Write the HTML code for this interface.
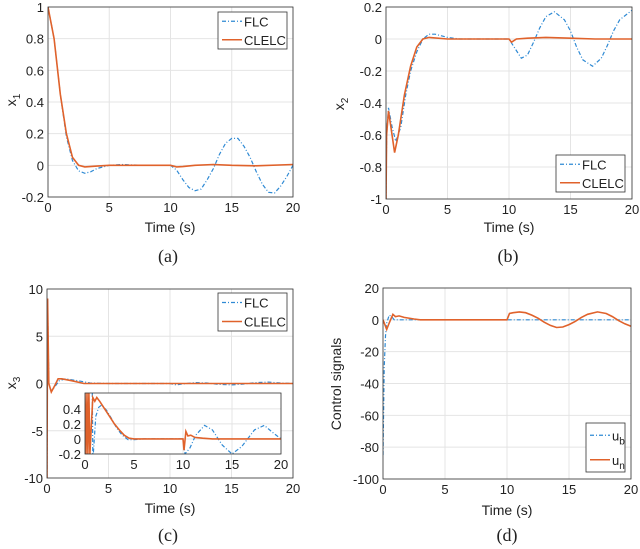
<!DOCTYPE html>
<html><head><meta charset="utf-8"><style>
body{margin:0;background:#fff}
svg{display:block;font-family:"Liberation Sans",sans-serif}
</style></head><body>
<svg id="fig" width="640" height="549" viewBox="0 0 640 549" xmlns="http://www.w3.org/2000/svg"></svg>
<script>
// ---- data (time, value) ----
const aT_flc=[0,0.5,1,1.5,2,2.5,3,3.5,4,5,6,7,8,9,10,10.5,11,11.5,12,12.5,13,13.5,14,14.5,15,15.5,16,16.5,17,17.5,18,18.5,19,19.5,20];
const aV_flc=[1,0.8,0.45,0.18,0.03,-0.035,-0.05,-0.04,-0.02,0,0.005,0.002,0,0,0,-0.03,-0.09,-0.14,-0.16,-0.15,-0.09,-0.02,0.07,0.14,0.17,0.17,0.12,0.05,-0.04,-0.12,-0.17,-0.175,-0.13,-0.07,0];
const aT_cl=[0,0.5,1,1.5,2,2.5,3,4,5,10,10.5,11,12,13.5,15,17,20];
const aV_cl=[1,0.8,0.45,0.2,0.05,0,-0.01,-0.005,0,0,-0.01,-0.008,0,0.005,0,-0.003,0.005];

const bT_flc=[0,0.05,0.2,0.5,0.8,1.2,1.6,2,2.5,3,3.5,4,4.5,5,6,10,10.5,11,11.5,12,12.5,13,13.7,14.5,15,15.5,16,16.8,17.5,18,18.5,19,20];
const bV_flc=[-1,-0.6,-0.43,-0.55,-0.64,-0.55,-0.35,-0.2,-0.08,0,0.03,0.03,0.02,0.01,0,0,-0.06,-0.12,-0.1,-0.02,0.07,0.14,0.17,0.12,0.05,-0.05,-0.13,-0.17,-0.12,-0.04,0.05,0.12,0.18];
const bT_cl=[0,0.05,0.2,0.4,0.7,1,1.5,2,2.5,3,3.5,5,10,10.2,10.6,11.5,13,15,17,20];
const bV_cl=[-1,-0.6,-0.45,-0.55,-0.71,-0.6,-0.35,-0.17,-0.05,0,0.01,0,0,-0.02,0,0.005,0.01,0.005,0,0];

const cT_flc=[0,0.05,0.15,0.35,0.6,1,1.5,2.5,3.5,5,10,10.5,11,12,13,14,15,16,17,18,19,20];
const cV_flc=[-10,9,0,-0.8,-0.4,0.3,0.5,0.3,0.05,0,0,-0.15,-0.05,0.1,0.05,-0.1,-0.15,-0.05,0.1,0.15,0.05,0];
const cT_cl=[0,0.05,0.15,0.35,0.6,0.9,1.2,2,3,20];
const cV_cl=[-10,9,0,-0.9,-0.3,0.5,0.5,0.3,0,0];
const iT_flc=[0.75,0.8,0.85,1.1,1.4,1.7,2.2,2.7,3.2,3.8,4.4,5,6,10,10.2,10.7,11.3,12.2,13,14,15,16,17.3,18.3,19.2,20];
const iV_flc=[0.61,-0.2,-0.2,0.3,0.42,0.45,0.38,0.27,0.15,0.05,-0.01,-0.01,0,0,-0.2,-0.12,0.05,0.18,0.12,-0.08,-0.2,-0.1,0.12,0.18,0.08,0];
const iT_cl=[0,0.1,0.2,0.3,0.4,0.5,0.8,1.0,1.2,1.5,2,2.5,3,3.5,4,4.5,5,10,10.1,10.3,10.5,10.8,11.2,12,13,20];
const iV_cl=[0.61,-0.2,0.61,-0.2,0.61,-0.2,0.55,0.5,0.55,0.5,0.4,0.3,0.2,0.12,0.05,0.01,0,0,-0.15,0.1,0.04,0.05,0.02,0.01,0,0];

const dT_ub=[0,0.1,0.2,0.3,0.5,0.7,0.9,20];
const dV_ub=[-85,-30,-10,-2,3,2,0,0];
const dT_un=[0,0.3,0.5,0.8,1,1.3,1.7,2.5,3,10,10.2,10.5,11,11.5,12,12.5,13,13.5,14,14.5,15,15.5,16,16.5,17.3,18,18.5,19,19.5,20];
const dV_un=[0,-6,-2,3.5,2,2.5,1.5,0.5,0,0,4,4.5,5,4.5,3,1,-1.5,-3.5,-4.8,-4.5,-3,-1,1.5,3.5,5,4,2,-0.5,-2.5,-4];

const xTicks=[0,5,10,15,20];
const aTicks=[1,0.8,0.6,0.4,0.2,0,-0.2];
const bTicks=[0.2,0,-0.2,-0.4,-0.6,-0.8,-1];
const cTicks=[10,5,0,-5,-10];
const iTicks=[0.4,0.2,0,-0.2];
const dTicks=[20,0,-20,-40,-60,-80,-100];

const NS="http://www.w3.org/2000/svg";
const svg=document.getElementById('fig');
const BLUE="#2f8ad4",OR="#e0622b";
function mk(tag,attrs,parent){const e=document.createElementNS(NS,tag);for(const k in attrs)e.setAttribute(k,attrs[k]);(parent||svg).appendChild(e);return e;}
function txt(x,y,s,anchor,size,parent,extra){const e=mk('text',Object.assign({x:x,y:y,'text-anchor':anchor,'font-size':size,fill:'#222'},extra||{}),parent);e.textContent=s;return e;}

function axes(name,x0,x1,y0,y1,xmin,xmax,ymin,ymax,xt,yt,grid){
  const g=mk('g',{});
  
  
  const sx=v=>x0+(v-xmin)/(xmax-xmin)*(x1-x0);
  const sy=v=>y1-(v-ymin)/(ymax-ymin)*(y1-y0);
  mk('rect',{x:x0,y:y0,width:x1-x0,height:y1-y0,fill:'#fff'},g);
  if(grid){
    xt.forEach(v=>mk('line',{x1:sx(v),x2:sx(v),y1:y0,y2:y1,stroke:'#e4e4e4','stroke-width':1},g));
    yt.forEach(v=>mk('line',{x1:x0,x2:x1,y1:sy(v),y2:sy(v),stroke:'#e4e4e4','stroke-width':1},g));
  }
  const lab=mk('g',{},g);
  
  
  xt.forEach(v=>txt(sx(v),y1+15,String(v),'middle',13,lab));
  yt.forEach(v=>txt(x0-4,sy(v)+5,String(v),'end',13,lab));
  const clip=name+'-clip';
  const cp=mk('clipPath',{id:clip},g);mk('rect',{x:x0,y:y0,width:x1-x0,height:y1-y0},cp);
  const plot=mk('g',{'clip-path':'url(#'+clip+')'},g);
  mk('rect',{x:x0,y:y0,width:x1-x0,height:y1-y0,fill:'none',stroke:'#333','stroke-width':0.8},g);
  return {g,sx,sy,plot};
}
function series(ax,T,V,color,dash,name){
  const p=mk('polyline',{points:T.map((t,i)=>ax.sx(t).toFixed(1)+','+ax.sy(V[i]).toFixed(1)).join(' '),fill:'none',stroke:color,'stroke-width':dash?1.2:1.6,'stroke-dasharray':dash?'4,2,1,2':'none'},ax.plot);
  
  
}
function legend(x,y,w,h,items,name){
  const g=mk('g',{});
  
  
  mk('rect',{x:x,y:y,width:w,height:h,fill:'#fff',stroke:'#333','stroke-width':0.8},g);
  const step=h/items.length;
  items.forEach((it,i)=>{
    const cy=y+step*(i+0.5);
    mk('line',{x1:x+4,x2:x+24,y1:cy,y2:cy,stroke:it.c,'stroke-width':it.d?1.2:1.6,'stroke-dasharray':it.d?'4,2,1,2':'none'},g);
    const t=txt(x+26,cy+5,'', 'start',13,g);
    t.textContent=it.l;
    if(it.sub){const s=mk('tspan',{dy:4,'font-size':10},t);s.textContent=it.sub;}
  });
}
function ylab(x,y,main,sub,name){
  const t=mk('text',{transform:'translate('+x+','+y+') rotate(-90)','text-anchor':'middle','font-size':14,fill:'#222'});
  
  
  t.textContent=main;
  if(sub){const s=mk('tspan',{dy:4,'font-size':10},t);s.textContent=sub;}
}
function caption(x,y,s,name){const t=txt(x,y,s,'middle',18,null,{'font-family':'"Liberation Serif",serif'});}
function xlab(x,y,name){const t=txt(x,y,'Time (s)','middle',14);}

// (a)
const A=axes('panel-a',48,293,7,197,0,20,-0.2,1,xTicks,aTicks,true);
series(A,aT_flc,aV_flc,BLUE,true,'a-flc-line');
series(A,aT_cl,aV_cl,OR,false,'a-clelc-line');
legend(218,12,69,37,[{l:'FLC',c:BLUE,d:true},{l:'CLELC',c:OR}],'legend-a');
ylab(16,100,'x','1','y-axis-title-a');xlab(170,232,'x-axis-title-a');caption(168,262,'(a)','caption-a');

// (b)
const B=axes('panel-b',386,632,7,199,0,20,-1,0.2,xTicks,bTicks,true);
series(B,bT_flc,bV_flc,BLUE,true,'b-flc-line');
series(B,bT_cl,bV_cl,OR,false,'b-clelc-line');
legend(556,155,69,37,[{l:'FLC',c:BLUE,d:true},{l:'CLELC',c:OR}],'legend-b');
ylab(344,104,'x','2','y-axis-title-b');xlab(509,232,'x-axis-title-b');caption(508,262,'(b)','caption-b');

// (c)
const C=axes('panel-c',47,293,289,478,0,20,-10,10,xTicks,cTicks,true);
series(C,cT_flc,cV_flc,BLUE,true,'c-flc-line');
series(C,cT_cl,cV_cl,OR,false,'c-clelc-line');
legend(218,293,69,38,[{l:'FLC',c:BLUE,d:true},{l:'CLELC',c:OR}],'legend-c');
const I=axes('inset-c',85,281,393,454,0,20,-0.2,0.61,xTicks,iTicks,true);
series(I,iT_flc,iV_flc,BLUE,true,'inset-flc-line');
series(I,iT_cl,iV_cl,OR,false,'inset-clelc-line');
ylab(16,383,'x','3','y-axis-title-c');xlab(170,513,'x-axis-title-c');caption(168,541,'(c)','caption-c');

// (d)
const D=axes('panel-d',383,631,288,479,0,20,-100,20,xTicks,dTicks,true);
series(D,dT_ub,dV_ub,BLUE,true,'d-ub-line');
series(D,dT_un,dV_un,OR,false,'d-un-line');
legend(586,423,39,49,[{l:'u',sub:'b',c:BLUE,d:true},{l:'u',sub:'n',c:OR}],'legend-d');
ylab(341,384,'Control signals',null,'y-axis-title-d');xlab(507,515,'x-axis-title-d');caption(507,541,'(d)','caption-d');
</script>
</body></html>
